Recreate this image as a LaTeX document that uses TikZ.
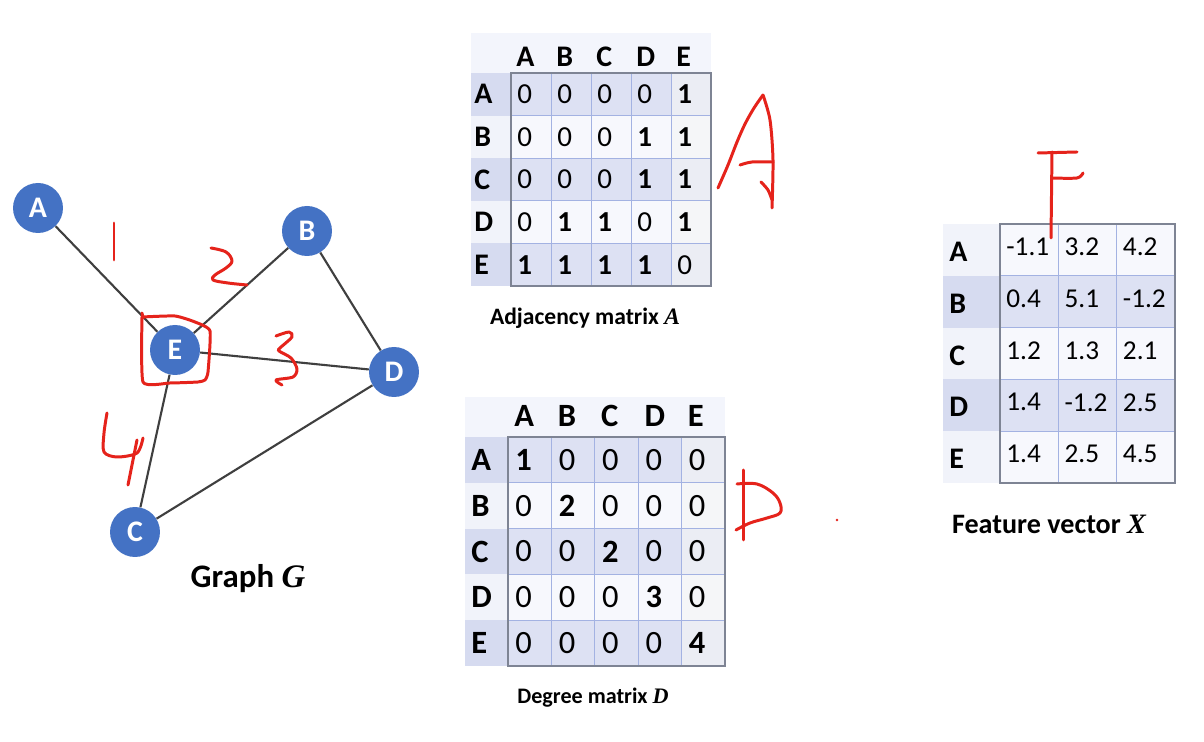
\documentclass[tikz,border=0pt]{standalone}
\usepackage{fontspec}
\setmainfont{Carlito}
\newfontfamily\varfont{Liberation Serif}
\definecolor{nodeblue}{HTML}{4472C4}
\definecolor{edgegray}{HTML}{3F3F3F}
\definecolor{inkred}{HTML}{E5231B}
\definecolor{bandA}{HTML}{DDE1F3}
\definecolor{bandB}{HTML}{F7F8FD}
\definecolor{labA}{HTML}{D6DBF0}
\definecolor{labB}{HTML}{F1F3FA}
\definecolor{headbg}{HTML}{F3F5FC}
\definecolor{gridblue}{HTML}{A3B2E2}
\definecolor{framegray}{HTML}{7E8494}
\tikzset{
  vertex/.style={circle, fill=nodeblue, minimum size=1cm, inner sep=0pt,
    text=white, font=\fontsize{17}{17}\selectfont\bfseries},
  link/.style={draw=edgegray, line width=1.2pt},
  ink/.style={draw=inkred, line width=1.7pt, line cap=round, line join=round},
  caption/.style={text=black, inner sep=0pt},
  hdr/.style={anchor=west, font=\fontsize{17}{17}\selectfont\bfseries, inner sep=0pt},
  rowlab/.style={anchor=west, font=\fontsize{17}{17}\selectfont\bfseries, inner sep=0pt},
  entry/.style={anchor=west, inner sep=0pt},
  cellgrid/.style={draw=gridblue, line width=0.5pt},
  cellframe/.style={draw=framegray, line width=0.8pt}
}
\newcommand{\varsym}[1]{{\varfont\bfseries\itshape #1}}
\newcommand{\boldif}[2]{\ifnum#1>#2\relax\bfseries\fi#1}
\begin{document}
\begin{tikzpicture}[x=0.02cm, y=-0.02cm]
\useasboundingbox (0,0) rectangle (1204,742);
\fill[white] (0,0) rectangle (1204,742);

% ---------- graph G ----------
\node[vertex] (A) at (38,208) {A};
\node[vertex] (B) at (307,231) {B};
\node[vertex] (E) at (175,350) {E};
\node[vertex] (D) at (394,372) {D};
\node[vertex] (C) at (135,532) {C};
\draw[link] (A) -- (E);
\draw[link] (B) -- (E);
\draw[link] (E) -- (D);
\draw[link] (B) -- (D);
\draw[link] (E) -- (C);
\draw[link] (C) -- (D);
\node[caption, font=\fontsize{18.7}{19}\selectfont\bfseries] (capG) at (248,579) {Graph \varsym{G}};

% hand-written edge numbers and the box round E
\draw[ink] (114,223) -- (114,260);
\draw[ink] plot[smooth, tension=0.6] coordinates {(211,248) (226,252) (232,261) (226,268) (215,275) (213,280) (228,283) (247,285)};
\draw[ink] (142,313) -- (143,318);
\draw[ink] plot[smooth, tension=0.3] coordinates {(142,317) (175,316) (195,322) (210,331) (208,372) (205,380) (198,382) (170,383) (143,382) (142,317)};
\draw[ink] plot[smooth, tension=0.5] coordinates {(276,336) (289,332) (292,337) (280,348) (279,351) (291,358) (297,369) (293,377) (276,380) (282,385)};
\draw[ink] plot[smooth, tension=0.5] coordinates {(107,413) (104,433) (104,452) (117,457) (137,453) (143,438)};
\draw[ink] (137,440) -- (128,485);

% ---------- adjacency matrix ----------
\def\ax{511}\def\ay{73}\def\aw{40}\def\ah{42.6}
\fill[headbg] (471,33) rectangle (711,73);
\foreach \r in {0,...,4}{
  \pgfmathsetmacro{\yt}{\ay+\r*\ah}
  \pgfmathparse{mod(\r,2)==0 ? "A" : "B"}
  \edef\band{\pgfmathresult}
  \fill[lab\band] (471,\yt) rectangle (511,\yt+\ah);
  \fill[band\band] (511,\yt) rectangle (711,\yt+\ah);
}
\fill[black!4, opacity=0.6] (671,73) rectangle (711,286);
\foreach \i in {1,...,4}{
  \draw[cellgrid] (\ax+\i*\aw,\ay) -- (\ax+\i*\aw,286);
  \draw[cellgrid] (\ax,\ay+\i*\ah) -- (711,\ay+\i*\ah);
}
\draw[cellframe] (511,73) rectangle (711,286);
\foreach \l [count=\c from 0] in {A,B,C,D,E}{
  \node[hdr] (adj-h\l) at (\ax+\c*\aw+5,57) {\l};
  \node[rowlab] (adj-r\l) at (474,\ay+\c*\ah+\ah/2) {\l};
}
\foreach \row [count=\r from 0] in {{0,0,0,0,1},{0,0,0,1,1},{0,0,0,1,1},{0,1,1,0,1},{1,1,1,1,0}}{
  \foreach \v [count=\c from 0] in \row{
    \node[entry, font=\fontsize{16.5}{16.5}\selectfont]
      (adj-\r-\c) at (\ax+\c*\aw+6,\ay+\r*\ah+\ah/2) {\boldif{\v}{0}};
  }
}
\node[caption, font=\fontsize{13.4}{14}\selectfont\bfseries] (capA) at (585,318) {Adjacency matrix \varsym{A}};

% ---------- degree matrix ----------
\def\dx{508}\def\dy{437}\def\dw{43.4}\def\dh{45.8}
\fill[headbg] (465,397) rectangle (725,437);
\foreach \r in {0,...,4}{
  \pgfmathsetmacro{\yt}{\dy+\r*\dh}
  \pgfmathparse{mod(\r,2)==0 ? "A" : "B"}
  \edef\band{\pgfmathresult}
  \fill[lab\band] (465,\yt) rectangle (508,\yt+\dh);
  \fill[band\band] (508,\yt) rectangle (725,\yt+\dh);
}
\fill[black!4, opacity=0.6] (681,437) rectangle (725,666);
\foreach \i in {1,...,4}{
  \draw[cellgrid] (\dx+\i*\dw,\dy) -- (\dx+\i*\dw,666);
  \draw[cellgrid] (\dx,\dy+\i*\dh) -- (725,\dy+\i*\dh);
}
\draw[cellframe] (508,437) rectangle (725,666);
\foreach \l [count=\c from 0] in {A,B,C,D,E}{
  \node[hdr, font=\fontsize{18.5}{18.5}\selectfont\bfseries] (deg-h\l) at (\dx+\c*\dw+6,416) {\l};
  \node[rowlab, font=\fontsize{18.5}{18.5}\selectfont\bfseries] (deg-r\l) at (471,\dy+\c*\dh+\dh/2) {\l};
}
\foreach \row [count=\r from 0] in {{1,0,0,0,0},{0,2,0,0,0},{0,0,2,0,0},{0,0,0,3,0},{0,0,0,0,4}}{
  \foreach \v [count=\c from 0] in \row{
    \node[entry, font=\fontsize{18.5}{18.5}\selectfont]
      (deg-\r-\c) at (\dx+\c*\dw+7,\dy+\r*\dh+\dh/2) {\boldif{\v}{0}};
  }
}
\node[caption, font=\fontsize{12.6}{13}\selectfont\bfseries] (capD) at (593,698) {Degree matrix \varsym{D}};

% ---------- feature vectors ----------
\def\fx{1000}\def\fy{224}\def\fw{58.3}\def\fh{51.8}
\foreach \r in {0,...,4}{
  \pgfmathsetmacro{\yt}{\fy+\r*\fh}
  \pgfmathparse{mod(\r,2)==0 ? "B" : "A"}
  \edef\band{\pgfmathresult}
  \fill[lab\band] (943,\yt) rectangle (1000,\yt+\fh);
  \fill[band\band] (1000,\yt) rectangle (1175,\yt+\fh);
}
\foreach \i in {1,2}{
  \draw[cellgrid] (\fx+\i*\fw,\fy) -- (\fx+\i*\fw,483);
}
\foreach \i in {1,...,4}{
  \draw[cellgrid] (\fx,\fy+\i*\fh) -- (1175,\fy+\i*\fh);
}
\draw[cellframe] (1000,224) rectangle (1175,483);
\foreach \l [count=\c from 0] in {A,B,C,D,E}{
  \node[rowlab] (ft-r\l) at (949,\fy+\c*\fh+\fh/2+2) {\l};
}
\foreach \row [count=\r from 0] in {{-1.1,3.2,4.2},{0.4,5.1,-1.2},{1.2,1.3,2.1},{1.4,-1.2,2.5},{1.4,2.5,4.5}}{
  \foreach \v [count=\c from 0] in \row{
    \node[entry, font=\fontsize{15.5}{15.5}\selectfont]
      (ft-\r-\c) at (\fx+\c*\fw+6,\fy+\r*\fh+\fh/2-3) {\v};
  }
}
\node[caption, font=\fontsize{16}{16}\selectfont\bfseries] (capX) at (1049,524) {Feature vector \varsym{X}};

% ---------- hand-written matrix letters ----------
% A
\draw[ink] plot[smooth, tension=0.5] coordinates {(718,188) (728,165) (737,142) (745,124) (754,108) (763,95)};
\draw[ink] plot[smooth, tension=0.5] coordinates {(763,95) (770,120) (773,160) (772,208)};
\draw[ink] plot[smooth, tension=0.5] coordinates {(740,165) (752,162) (773,162)};
\draw[ink] plot[smooth, tension=0.5] coordinates {(761,182) (768,190) (772,200)};
% D
\draw[ink] (743,470) -- (743,540);
\draw[ink] plot[smooth, tension=0.6] coordinates {(737,484) (757,484) (773,493) (780,503) (780,513) (767,518) (750,523) (736,530)};
\fill[inkred] (837,520) circle (1.3);
% F
\draw[ink] (1052,152) -- (1051,238);
\draw[ink] (1038,153) -- (1077,152);
\draw[ink] plot[smooth, tension=0.5] coordinates {(1052,178) (1077,178) (1083,173)};
\end{tikzpicture}
\end{document}
